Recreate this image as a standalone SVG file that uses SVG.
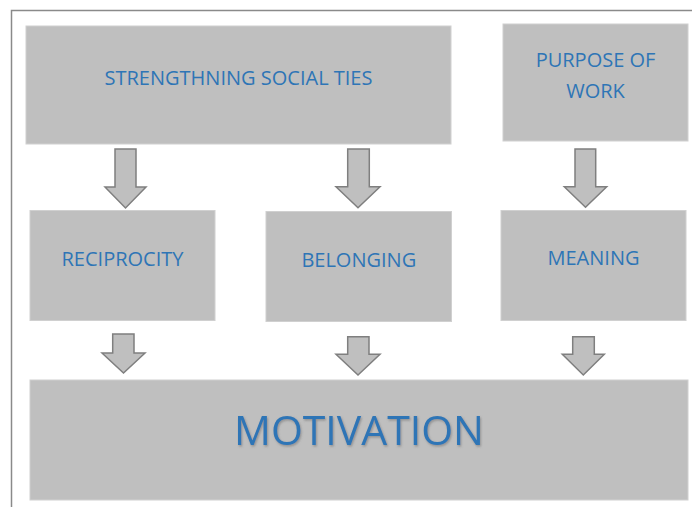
<svg xmlns="http://www.w3.org/2000/svg" width="692" height="507" viewBox="0 0 692 507">
<style>
.box{fill:#BFBFBF;stroke:#D0D0D0;stroke-width:1}
.lbl{font-family:"Open Sans","Liberation Sans",sans-serif;font-size:20px;fill:#2E75B6;text-anchor:middle}
.big{font-size:41px}
.arr{fill:#BFBFBF;stroke:#7F7F7F;stroke-width:1.5;stroke-linejoin:miter}
</style>
<defs>
<filter id="sh" x="-10%" y="-30%" width="120%" height="160%">
<feDropShadow dx="1" dy="1.5" stdDeviation="1" flood-color="#606060" flood-opacity="0.5"/>
</filter>
</defs>
<rect width="692" height="507" fill="#FFFFFF"/>
<path d="M11.5 520 V10.5 H700" fill="none" stroke="#8A8A8A" stroke-width="1.5"/>
<g id="strengthening">
<rect class="box" x="26" y="26" width="425" height="118"/>
<text class="lbl" x="238.5" y="85">STRENGTHNING SOCIAL TIES</text>
</g>
<g id="purpose">
<rect class="box" x="503" y="24" width="185" height="117"/>
<text class="lbl" x="595.5" y="67">PURPOSE OF</text>
<text class="lbl" x="595.5" y="98">WORK</text>
</g>
<g id="reciprocity">
<rect class="box" x="30" y="210.5" width="185" height="110"/>
<text class="lbl" x="122.5" y="266">RECIPROCITY</text>
</g>
<g id="belonging">
<rect class="box" x="266" y="211.5" width="185.5" height="110"/>
<text class="lbl" x="358.8" y="267.3">BELONGING</text>
</g>
<g id="meaning">
<rect class="box" x="501" y="210.5" width="185" height="110"/>
<text class="lbl" x="593.5" y="265">MEANING</text>
</g>
<g id="motivation">
<rect class="box" x="30" y="380" width="658" height="120"/>
<text class="lbl big" x="359" y="445" filter="url(#sh)">MOTIVATION</text>
</g>
<g id="connectors">
<path class="arr" d="M115 149 H136 V187 H146 L125.5 208 L105 187 H115 Z"/>
<path class="arr" d="M347.7 149 H369.3 V186.7 H380 L358 207.7 L336 186.7 H347.7 Z"/>
<path class="arr" d="M575 149 H595.7 V186.7 H606.7 L585.5 207.3 L564.3 186.7 H575 Z"/>
<path class="arr" d="M112.7 334 H134 V353 H145 L123.5 373 L102 353 H112.7 Z"/>
<path class="arr" d="M347.7 336.7 H369 V354.3 H380 L358 375 L336 354.3 H347.7 Z"/>
<path class="arr" d="M572.7 336.7 H594.3 V354.3 H604.3 L583.3 375 L562.3 354.3 H572.7 Z"/>
</g>
</svg>
